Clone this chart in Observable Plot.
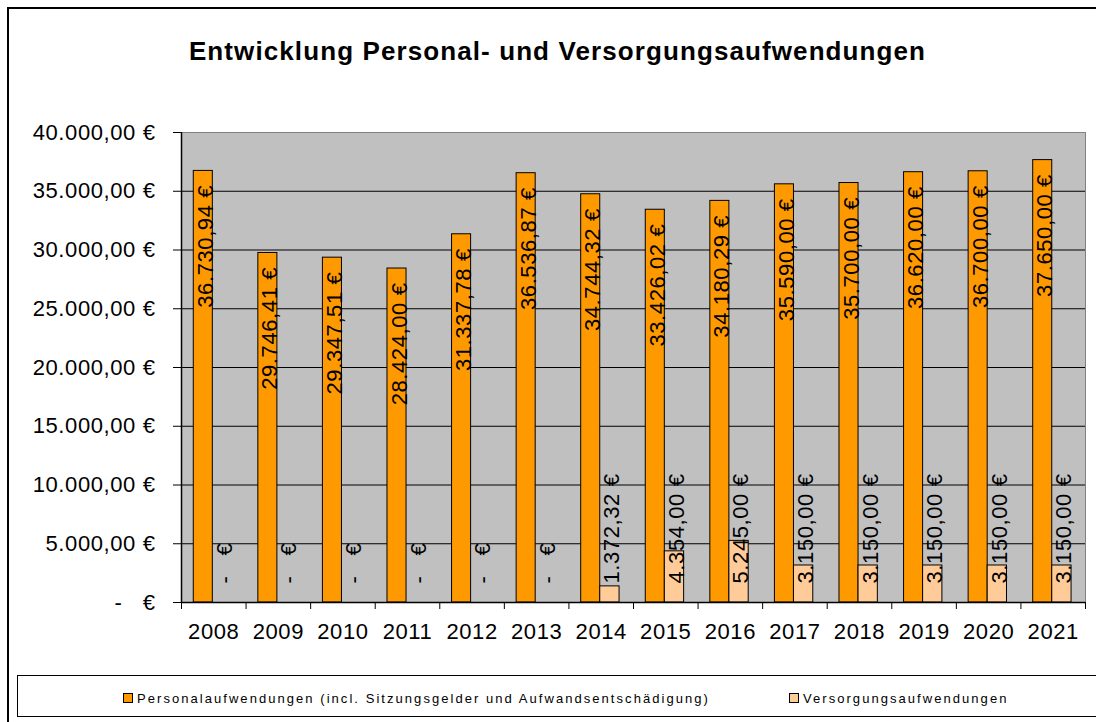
<!DOCTYPE html>
<html>
<head>
<meta charset="utf-8">
<script src="https://cdn.jsdelivr.net/npm/d3@7"></script>
<script src="https://cdn.jsdelivr.net/npm/@observablehq/plot@0.6"></script>
<style>
  html, body { margin: 0; padding: 0; background: #fff; }
  #wrap { position: relative; width: 1096px; height: 722px; overflow: hidden; font-family: "Liberation Sans", Arial, sans-serif; }
  #chart { position: absolute; left: 0; top: 0; }
  #chart svg text { letter-spacing: 0.6px; }
  #border { position: absolute; left: 7px; top: 7px; width: 1200px; height: 800px; border: 2px solid #000; box-sizing: border-box; }
  #title { position: absolute; left: 0; top: 38px; width: 1115px; text-align: center; font-weight: bold; font-size: 26px; line-height: 26px; letter-spacing: 1.1px; color: #000; white-space: nowrap; }
  #legend { position: absolute; left: 17px; top: 675px; width: 1200px; height: 42px; border: 1.5px solid #000; box-sizing: border-box; background: #fff; }
  .item { position: absolute; top: 16px; font-size: 13px; line-height: 13px; letter-spacing: 2.05px; color: #000; white-space: nowrap; }
  .sw { display: inline-block; width: 8px; height: 8px; border: 1px solid #000; margin-right: 4px; vertical-align: 0px; }
</style>
</head>
<body>
<div id="wrap">
  <div id="chart"></div>
  <div id="border"></div>
  <div id="title">Entwicklung Personal- und Versorgungsaufwendungen</div>
  <div id="legend"></div>
</div>
<script>
// ---- data ----
const years = ["2008","2009","2010","2011","2012","2013","2014","2015","2016","2017","2018","2019","2020","2021"];
const personal = [36730.94, 29746.41, 29347.51, 28424.00, 31337.78, 36536.87, 34744.32, 33426.02, 34180.29, 35590.00, 35700.00, 36620.00, 36700.00, 37650.00];
const versorgung = [0, 0, 0, 0, 0, 0, 1372.32, 4354.00, 5245.00, 3150.00, 3150.00, 3150.00, 3150.00, 3150.00];
const yTicks = [0, 5000, 10000, 15000, 20000, 25000, 30000, 35000, 40000];
const yTickLabels = ["-\u00a0\u00a0\u00a0€", "5.000,00 €", "10.000,00 €", "15.000,00 €", "20.000,00 €", "25.000,00 €", "30.000,00 €", "35.000,00 €", "40.000,00 €"];
const seriesNames = ["Personalaufwendungen (incl. Sitzungsgelder und Aufwandsentschädigung)", "Versorgungsaufwendungen"];
const seriesColors = ["#FF9900", "#FFCC99"];

// ---- build ----
const rows = years.map((year, i) => ({year, personal: personal[i], versorgung: versorgung[i]}));
const de = d3.formatLocale({decimal: ",", thousands: ".", grouping: [3], currency: ["", " €"]});
const num = de.format(",.2f");
const fmt = v => v === 0 ? "-\u00a0\u00a0\u00a0€" : num(v) + " €";
const tickLabel = new Map(yTicks.map((t, i) => [t, yTickLabels[i]]));

const W = 1096, H = 722, mL = 181, mR = 11, mT = 132, mB = 120;
const bw = (W - mL - mR) / years.length;
const FONT = "'Liberation Sans', Arial, sans-serif";

const chart = Plot.plot({
  width: W, height: H,
  marginLeft: mL, marginRight: mR, marginTop: mT, marginBottom: mB,
  style: {background: "transparent", fontFamily: FONT, color: "#000"},
  x: {type: "band", domain: years, padding: 0, round: false, axis: null, label: null},
  y: {domain: [0, 40000], axis: null, label: null},
  marks: [
    Plot.frame({fill: "#C0C0C0", stroke: "#808080"}),
    Plot.ruleY(yTicks.filter(t => t > 0 && t < 40000), {stroke: "#000", strokeWidth: 1}),
    Plot.barY(rows, {x: "year", y: "personal", fill: seriesColors[0], stroke: "#000", strokeWidth: 1,
      insetLeft: bw * 0.19, insetRight: bw * 0.515}),
    Plot.barY(rows.filter(d => d.versorgung > 0), {x: "year", y: "versorgung", fill: seriesColors[1], stroke: "#000", strokeWidth: 1,
      insetLeft: bw * 0.485, insetRight: bw * 0.216}),
    Plot.ruleY([0], {stroke: "#000", strokeWidth: 1.5}),
    Plot.ruleX([years[0]], {dx: -bw / 2, stroke: "#000", strokeWidth: 1.5}),
    Plot.axisY({ticks: yTicks, tickSize: 8, tickPadding: 18, tickFormat: t => tickLabel.get(t), fontSize: 22, stroke: "#000", label: null}),
    Plot.axisX({ticks: years, tickSize: 7, tickFormat: () => "", dx: -bw / 2, stroke: "#000", label: null}),
    Plot.axisX({ticks: [years[years.length - 1]], tickSize: 7, tickFormat: () => "", dx: bw / 2, stroke: "#000", label: null}),
    Plot.axisX({ticks: years, tickSize: 0, tickPadding: 21, fontSize: 22, label: null}),
    Plot.text(rows, {x: "year", y: "personal", text: d => fmt(d.personal), rotate: -90, textAnchor: "end",
      dy: 14, dx: -8, fontSize: 22, fill: "#000"}),
    Plot.text(rows, {x: "year", y: () => 0, text: d => fmt(d.versorgung), rotate: -90, textAnchor: "start",
      dy: -19, dx: 11, fontSize: 22, fill: "#000"})
  ]
});
document.getElementById("chart").appendChild(chart);

// legend
const legend = document.getElementById("legend");
const itemLeft = [105, 771];
seriesNames.forEach((name, i) => {
  const it = document.createElement("div");
  it.className = "item";
  it.style.left = itemLeft[i] + "px";
  const sw = document.createElement("span");
  sw.className = "sw";
  sw.style.background = seriesColors[i];
  it.appendChild(sw);
  it.appendChild(document.createTextNode(name));
  legend.appendChild(it);
});
</script>
</body>
</html>
